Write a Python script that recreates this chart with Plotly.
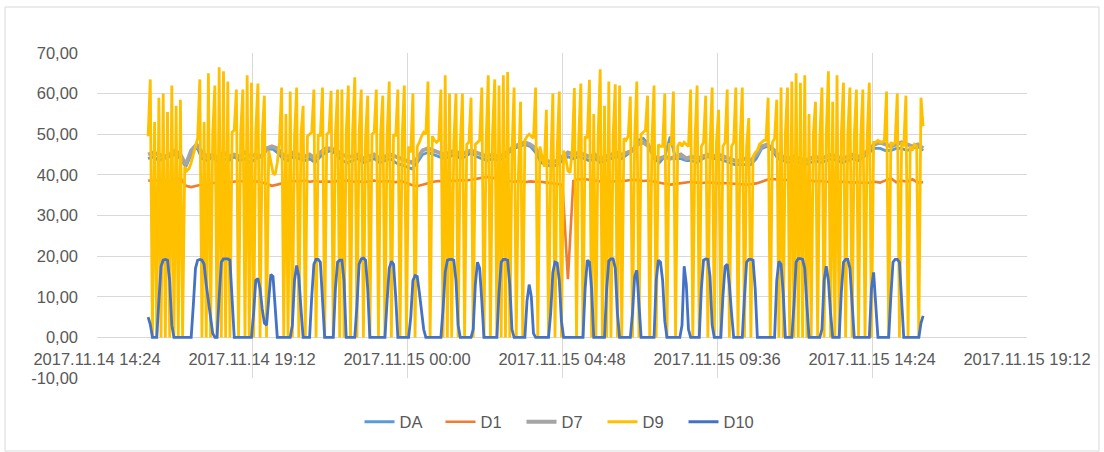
import pandas as pd
import plotly.graph_objects as go

# ---------------- data ----------------
series_names = ["DA", "D1", "D7", "D9", "D10"]
series_colors = ["#5B9BD5", "#ED7D31", "#A5A5A5", "#FFC000", "#4472C4"]

y_tick_values = [-10, 0, 10, 20, 30, 40, 50, 60, 70]
y_tick_labels = ["-10,00", "0,00", "10,00", "20,00", "30,00", "40,00", "50,00", "60,00", "70,00"]

x_tick_values = ["2017-11-14 14:24", "2017-11-14 19:12", "2017-11-15 00:00", "2017-11-15 04:48",
                 "2017-11-15 09:36", "2017-11-15 14:24", "2017-11-15 19:12"]
x_tick_labels = ["2017.11.14 14:24", "2017.11.14 19:12", "2017.11.15 00:00", "2017.11.15 04:48",
                 "2017.11.15 09:36", "2017.11.15 14:24", "2017.11.15 19:12"]

start_time = "2017-11-14 15:59"
fine_step = "4min"     # D9, D10 sampling
coarse_step = "10min"  # DA, D1, D7 sampling

da = [44, 44.5, 43.5, 44, 44.5, 45, 44,
      42, 45, 47,
      44, 43.5, 44.5, 43, 44, 43.5, 44.5, 43.5, 44, 43, 44, 44.5,
      46, 46.5, 45.5,
      44, 43.5, 44.5, 44, 43.5, 44, 43, 44.5, 45.5, 46, 45,
      43.5, 43, 43.5, 44, 43, 43.5, 44, 43, 43.5, 44, 43,
      42.5, 42, 41.5, 43,
      45, 45.5, 45, 44.5, 44, 44.5, 45, 44, 44.5, 45.5, 44.5,
      44, 43.5, 44, 43.5, 44, 45.5, 46.5, 47,
      47.5, 47, 45.5,
      43, 42.5, 42, 42.5, 43.5,
      44.5, 44, 44.5, 44, 43.5, 44, 43, 43.5, 44, 44.5, 44, 45, 46,
      48.5, 49, 47.5,
      44, 43, 44.5, 49.4, 44, 44, 43.5, 43.5, 43,
      44, 44.5, 44, 44, 43.5, 43, 42.5, 42.5,
      42.5, 42.5, 44, 46.5, 47, 46,
      44, 43.5, 43, 43.5, 43, 42.5, 43, 43.5, 43, 43.5, 44, 43.5, 43, 43.5, 44, 43.5, 44.5,
      45.5, 46.5, 46.5, 46, 46, 46.5, 46.5, 46, 46.5, 47, 46]

d1 = [38.6, 38.5, 38.7, 38.6, 38.5, 38.6, 39.3,
      37.3, 37, 37.3, 37.6, 37.8, 38, 38.2, 38.3, 38.2, 38.4, 38.5, 38.3, 38.5, 38.4, 38.2,
      37.8, 37.3, 37.6, 38, 38.3, 38.5, 38.4, 38.6, 38.3, 38.5, 38.3, 38.4,
      38.3, 38.5, 38.4, 38.6, 38.3, 38.5, 38.2, 38.4, 38.6, 38.3, 38.5, 38.4, 38.2, 38.5, 38, 37.5, 37.2,
      37.6, 38, 38.3, 38.5, 38.4, 38.6,
      38.5, 38.7, 38.6, 38.8, 39, 39.3, 39.5, 39.3,
      39, 38.7, 38.5, 38.3, 38.5, 38.2, 38.4, 38.3,
      38.3, 38.1, 38, 37.8, 37.5,
      14.3, 38.5, 38.9, 39, 38.8, 38.6, 38.4, 38.6, 38.3, 38.5, 38.4, 38.6, 38.8, 38.7, 38.5, 38.6,
      38.3, 38, 37.8, 37.6, 37.8, 38, 38.2, 38.3, 38.1, 38, 38.2, 38, 37.9,
      38, 37.9, 37.8, 37.7, 37.6, 37.7, 37.9, 38.3, 38.8, 39, 38.9, 38.7, 38.8, 38.6, 38.7, 38.5,
      38.6, 38.4, 38.5, 38.3, 38.4, 38.2, 38.3, 38.2, 38.1, 38.2, 38, 38.1, 38.3, 38.1, 38.6, 39.2,
      38.2, 38.6, 38.3, 38.9, 38.1, 38.2]

d7 = [45, 45.5, 45, 44.5, 45, 46, 45,
      42.5,
      46, 47.5,
      45.5, 44.5, 45, 44, 45.5, 44.5, 45, 44.5, 45.5, 44.5, 45, 44.5,
      46.5, 47, 46.5,
      45, 44.5, 45.5, 45, 44.5, 45, 44, 45.5, 46.5, 46.5, 46,
      45, 44.5, 44.5, 45, 44, 44.5, 45, 44, 44.5, 45, 44.5,
      44, 43.5, 43, 44,
      46, 46.5, 46, 45.5, 45, 45.5, 46, 45, 45.5, 46, 45.5,
      45, 44.5, 45, 44.5, 45, 46, 47, 47.5,
      48, 47.5, 46.5,
      44.5, 43.5, 43, 43.5, 44.5,
      45.5, 45, 45.5, 45, 44.5, 45, 44, 44.5, 45, 45.5, 45, 45.5, 46,
      47.5, 48, 47,
      44.5, 44, 44.5, 44, 44.5, 45, 44, 44.5, 44,
      44.5, 45, 44.5, 45, 44.5, 44, 43.5, 43.5,
      44, 43.5, 45, 47, 47.5, 46.5,
      45, 44.5, 44, 44.5, 44, 43.5, 44, 44.5, 44, 44.5, 45, 44.5, 44, 44.5, 45, 44.5, 45,
      46.5, 47.5, 48, 47.5, 47, 47.5, 48, 47.5, 47, 47.5, 46.5]

d9 = [49.5, 63.5, 0, 53, 0, 59, 0, 60, 0, 55.5, 0, 62, 0, 57, 0, 58.5, 0, 42, 41, 41.5,
      43, 45, 47.5, 49, 63.5, 0, 53, 0, 65, 0, 50, 62, 0, 66.5, 0, 65.5, 0, 63, 0, 50.5,
      51, 61, 0, 50.5, 61, 0, 64.5, 0, 62.7, 0, 50.5, 62.5, 0, 49.5, 59.5, 0, 46, 43, 40.5, 40,
      43, 48, 61.5, 0, 55, 0, 60.5, 0, 49.5, 61.5, 0, 50, 57, 0, 49.5, 50, 50.5, 61, 0, 50,
      49.5, 61.5, 0, 50, 50.5, 60.7, 0, 50, 61, 0, 61, 0, 50, 62, 0, 50.5, 64, 0, 50, 61,
      0, 49.5, 59.5, 0, 50, 50.5, 61, 0, 50, 59.5, 0, 49.5, 63, 0, 50, 49.5, 61, 0, 49, 62,
      0, 47, 45.5, 60, 0, 47, 48, 49.5, 50.5, 50, 63, 0, 49.5, 48.5, 48, 48.5, 61, 0, 64.5, 0,
      60, 0, 48, 60, 0, 47.5, 60, 0, 47.5, 48, 59, 0, 47.5, 48, 48.5, 61.5, 0, 48, 64.5, 0,
      50, 63.5, 0, 62, 0, 64.5, 0, 65.3, 0, 45, 61.5, 0, 40, 58, 0, 48.5, 49.5, 50, 49.5, 49,
      61.5, 0, 47, 44, 42, 56, 0, 42, 60, 0, 46, 60.5, 0, 46, 44, 41, 40.5, 46, 61.4, 0,
      48.5, 62.5, 0, 49.5, 49, 63.4, 0, 55, 0, 49, 66, 0, 57, 0, 63, 0, 49.5, 62.3, 0, 62,
      0, 49, 48.5, 49.5, 59.3, 0, 49, 63, 0, 50, 50.5, 51, 59.5, 0, 48, 62, 0, 47.5, 47, 47,
      60, 0, 47.5, 47.5, 60.5, 0, 47, 48, 47, 48, 47.5, 47, 61, 0, 48, 62, 0, 47, 48, 59.5,
      0, 47, 61.5, 0, 48, 56, 0, 47, 48, 61, 0, 47, 48, 61.5, 0, 48, 61.5, 0, 47, 54,
      0, 44.5, 45.5, 46, 47.5, 48, 48.5, 48.5, 59, 0, 48, 49, 58.5, 0, 61.5, 0, 50, 61.5, 0, 63,
      0, 65, 0, 62.7, 0, 64.5, 0, 55, 0, 50, 58, 0, 49, 61.5, 0, 50, 65.5, 0, 58, 0,
      64.5, 0, 50, 62.7, 0, 50, 61.5, 0, 49, 61, 0, 49, 61, 0, 49, 62.7, 0, 48, 48, 48.5,
      48, 48, 48.5, 60.5, 0, 48, 47.5, 48, 60, 0, 48, 47, 59.5, 0, 47, 46, 47.5, 47, 0, 59,
      52]

d10 = [5, 3.2, 0, 0, 0, 9, 17.5, 19, 19.2, 19, 14, 3, 0, 0, 0, 0, 0, 0, 0, 0,
       0, 8, 17, 19, 19.2, 19, 18, 13, 9, 5, 1, 0, 0, 10, 18.5, 19.3, 19.3, 19.3, 19, 10,
       0, 0, 0, 0, 0, 0, 0, 0, 0, 6, 14, 14.5, 12, 7, 3.5, 3, 9, 15.5, 15, 8,
       0, 0, 0, 0, 0, 0, 0, 3, 14, 17.7, 15, 7, 0, 0, 0, 0, 10, 18, 19.2, 19.2,
       18.5, 8, 0, 0, 0, 0, 0, 12, 18.5, 19, 19, 14, 0, 0, 0, 0, 0, 8, 18, 19.3,
       19.5, 19, 12, 0, 0, 0, 0, 0, 0, 0, 0, 9, 17, 18.7, 18, 10, 0, 0, 0, 0,
       0, 0, 5, 14, 15.2, 15, 11, 6, 2, 0, 0, 0, 0, 0, 0, 0, 0, 7, 16, 19,
       19.2, 19.2, 19, 14, 3, 0, 0, 0, 0, 0, 0, 2, 13, 18.5, 17, 9, 0, 0, 0, 0,
       0, 0, 0, 11, 18.5, 19.2, 19.2, 19, 13, 2, 0, 0, 0, 0, 0, 0, 9, 13, 10, 1,
       0, 0, 0, 0, 0, 0, 0, 6, 16, 18.5, 18.3, 14, 4, 0, 0, 0, 0, 0, 0, 0,
       0, 0, 0, 12, 19, 18.5, 12, 0, 0, 0, 0, 0, 0, 12, 18.8, 19.3, 19.3, 17, 6, 0,
       0, 0, 0, 0, 0, 6, 15, 16.5, 9, 0, 0, 0, 0, 0, 0, 0, 14, 19, 18.5, 14,
       4, 0, 0, 0, 0, 0, 0, 0, 3, 17.5, 13, 2, 0, 0, 0, 0, 0, 12, 19, 19.3,
       19.2, 15, 3, 0, 0, 0, 0, 10, 17.5, 18, 13, 6, 0, 0, 0, 0, 0, 10, 18.5, 19.2,
       19.2, 19, 12, 0, 0, 0, 0, 0, 0, 0, 0, 0, 14, 18.7, 18, 11, 0, 0, 0, 0,
       8, 18.5, 19.4, 19.4, 19.2, 17, 8, 0, 0, 0, 0, 0, 0, 2, 14, 17.5, 14, 6, 0, 0,
       0, 0, 11, 18.5, 19.2, 19.2, 17, 8, 0, 0, 0, 0, 0, 0, 0, 0, 12, 16, 8, 0,
       0, 0, 0, 0, 0, 10, 18.5, 19.2, 19.2, 18.5, 10, 0, 0, 0, 0, 0, 0, 0, 0, 3.5,
       5.3]

assert len(da) == len(d1) == len(d7), (len(da), len(d1), len(d7))
assert len(d9) == len(d10), (len(d9), len(d10))

t_coarse = pd.date_range(start_time, periods=len(d7), freq=coarse_step)
t_fine = pd.date_range(start_time, periods=len(d9), freq=fine_step)

series = [(da, t_coarse), (d1, t_coarse), (d7, t_coarse), (d9, t_fine), (d10, t_fine)]
widths = [2.8, 2.6, 4, 2.8, 2.8]

# ---------------- figure ----------------
fig = go.Figure()
for (vals, t), name, color, w in zip(series, series_names, series_colors, widths):
    fig.add_trace(go.Scatter(x=t, y=vals, mode="lines", name=name,
                             line=dict(color=color, width=w), hoverinfo="skip"))

font_family = "Liberation Sans, Arial, sans-serif"
text_color = "#595959"
grid_color = "#d9d9d9"

L, R, T, B = 97, 77, 53, 74
W, H = 1104, 452
pw, ph = W - L - R, H - T - B

fig.update_layout(
    width=W, height=H,
    margin=dict(l=L, r=R, t=T, b=B, pad=0),
    paper_bgcolor="white", plot_bgcolor="white",
    font=dict(family=font_family, size=16.5, color=text_color),
    showlegend=True,
    legend=dict(orientation="h", x=0.5, xanchor="center", y=-44 / ph, yanchor="middle",
                font=dict(family=font_family, size=16.5, color=text_color),
                entrywidth=36, bgcolor="rgba(0,0,0,0)"),
    xaxis=dict(type="date", range=["2017-11-14 14:24", "2017-11-15 19:12"],
               tickmode="array", tickvals=x_tick_values, ticktext=x_tick_labels,
               showgrid=True, gridcolor=grid_color, gridwidth=1,
               zeroline=False, showline=False, ticks="",
               anchor="free", position=10 / 80, ticklabelstandoff=10,
               tickfont=dict(family=font_family, size=16.5, color=text_color)),
    yaxis=dict(range=[-10, 70], tickmode="array", tickvals=y_tick_values, ticktext=y_tick_labels,
               showgrid=True, gridcolor=grid_color, gridwidth=1,
               zeroline=False, showline=False, ticks="", ticklabelstandoff=18,
               tickfont=dict(family=font_family, size=16.5, color=text_color)),
    shapes=[dict(type="rect", xref="paper", yref="paper",
                 x0=(5 - L) / pw, x1=(1099 - L) / pw,
                 y0=(H - B - 451) / ph, y1=(H - B - 7) / ph,
                 line=dict(color=grid_color, width=1), fillcolor="rgba(0,0,0,0)", layer="below")],
)

fig.write_html("out.html", config={"displayModeBar": False},
               post_script="document.body.style.margin='0';")
